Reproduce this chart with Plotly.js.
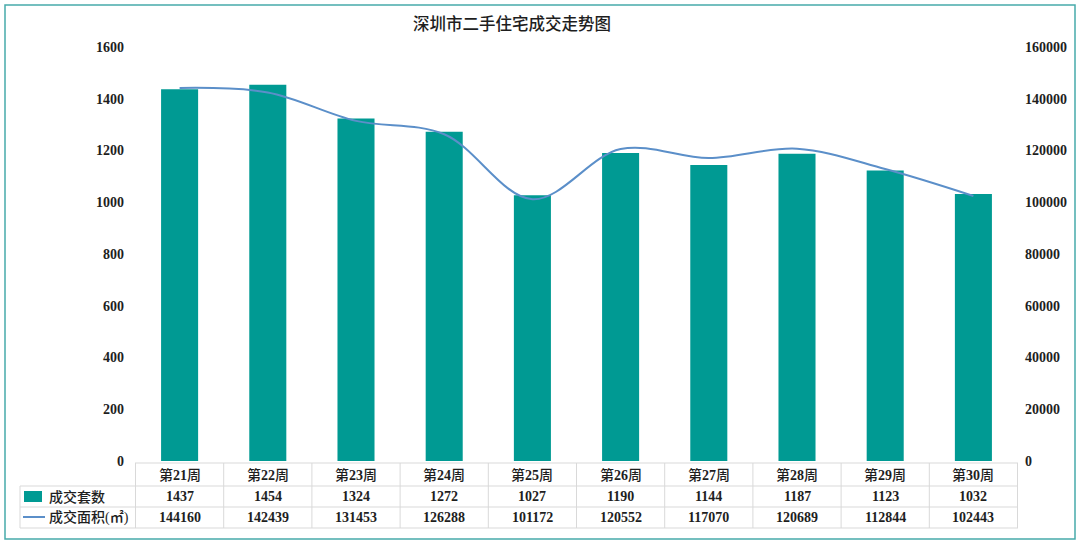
<!DOCTYPE html>
<html>
<head>
<meta charset="utf-8">
<script src="https://cdn.plot.ly/plotly-3.0.1.min.js"></script>
<style>
  html, body { margin: 0; padding: 0; background: #fff; }
  #chart { width: 1080px; height: 545px; }
</style>
</head>
<body>
<div id="chart"></div>
<script>
(function () {
    'use strict';

    // Data
    const weeks = ['第21周', '第22周', '第23周', '第24周', '第25周', '第26周', '第27周', '第28周', '第29周', '第30周'];
    const units = [1437, 1454, 1324, 1272, 1027, 1190, 1144, 1187, 1123, 1032];
    const area = [144160, 142439, 131453, 126288, 101172, 120552, 117070, 120689, 112844, 102443];
    const leftTicks = [0, 200, 400, 600, 800, 1000, 1200, 1400, 1600];
    const rightTicks = [0, 20000, 40000, 60000, 80000, 100000, 120000, 140000, 160000];
    const seriesNames = ['成交套数', '成交面积(㎡)'];

    const COLORS = {
        bar: '#009a93',
        line: '#5b8fc9',
        text: '#1e1e1e',
        grid: '#d9d9d9',
        frame: '#47aaaa'
    };
    const FONT = '"Liberation Serif", "DejaVu Serif", "Noto Sans CJK SC", serif';

    // Plot area in pixels (used to place the table below it)
    const W = 1080, H = 545;
    const M = { l: 135, r: 62, t: 47, b: 84 };
    const plotW = W - M.l - M.r;
    const plotH = H - M.t - M.b;
    const px = x => (x - M.l) / plotW;
    const py = y => (H - M.b - y) / plotH;

    // bold digits, medium CJK
    const boldDigits = s => String(s).replace(/([0-9]+)/g, '<b>$1</b>');

    // table row lines (pixels)
    const rowLines = [463, 486, 507, 528];
    const rowMid = [475, 496.5, 517.5];
    const tableLeft = 20;

    const shapes = [];
    const annotations = [];
    const n = weeks.length;

    // horizontal lines
    rowLines.forEach((y, i) => {
        shapes.push({
            type: 'line', xref: 'paper', yref: 'paper',
            x0: i === 0 ? 0 : px(tableLeft), x1: 1, y0: py(y), y1: py(y),
            line: { color: COLORS.grid, width: 1 }
        });
    });
    // vertical lines at category edges
    for (let i = 0; i <= n; i++) {
        shapes.push({
            type: 'line', xref: 'x', yref: 'paper',
            x0: i - 0.5, x1: i - 0.5, y0: py(rowLines[0]), y1: py(rowLines[3]),
            line: { color: COLORS.grid, width: 1 }
        });
    }
    shapes.push({
        type: 'line', xref: 'paper', yref: 'paper',
        x0: px(tableLeft), x1: px(tableLeft), y0: py(rowLines[1]), y1: py(rowLines[3]),
        line: { color: COLORS.grid, width: 1 }
    });

    // legend keys in the table
    shapes.push({
        type: 'rect', xref: 'paper', yref: 'paper',
        x0: px(24), x1: px(42), y0: py(491), y1: py(502),
        fillcolor: COLORS.bar, line: { width: 0 }
    });
    shapes.push({
        type: 'line', xref: 'paper', yref: 'paper',
        x0: px(23), x1: px(45), y0: py(517), y1: py(517),
        line: { color: COLORS.line, width: 2 }
    });

    // outer frame
    shapes.push({
        type: 'rect', xref: 'paper', yref: 'paper',
        x0: px(5), x1: px(1075), y0: py(5), y1: py(539),
        line: { color: COLORS.frame, width: 1.5 }
    });

    const cellFont = { family: FONT, size: 14, color: COLORS.text, weight: 500 };
    seriesNames.forEach((name, r) => {
        annotations.push({
            xref: 'paper', yref: 'paper', x: px(47), y: py(rowMid[r + 1]),
            xanchor: 'left', yanchor: 'middle', showarrow: false,
            text: name, font: cellFont
        });
    });
    weeks.forEach((w, i) => {
        [w, units[i], area[i]].forEach((v, r) => {
            annotations.push({
                xref: 'x', yref: 'paper', x: i, y: py(rowMid[r]),
                xanchor: 'center', yanchor: 'middle', showarrow: false,
                text: boldDigits(v), font: cellFont
            });
        });
    });

    const traces = [
        {
            type: 'bar', x: weeks, y: units, name: seriesNames[0],
            marker: { color: COLORS.bar, line: { width: 0 } },
            hoverinfo: 'x+y'
        },
        {
            type: 'scatter', mode: 'lines', x: weeks, y: area, name: seriesNames[1],
            yaxis: 'y2',
            line: { color: COLORS.line, width: 2, shape: 'spline', smoothing: 1 },
            hoverinfo: 'x+y'
        }
    ];

    const tickFont = { family: FONT, size: 14, color: COLORS.text, weight: 'bold' };

    const layout = {
        width: W, height: H,
        margin: M,
        paper_bgcolor: '#ffffff',
        plot_bgcolor: '#ffffff',
        font: { family: FONT, size: 14, color: COLORS.text },
        title: {
            text: '深圳市二手住宅成交走势图',
            x: 512 / W, xref: 'container', xanchor: 'center',
            y: 1 - 24 / H, yref: 'container', yanchor: 'middle',
            font: { family: FONT, size: 16.5, color: COLORS.text, weight: 500 }
        },
        showlegend: false,
        bargap: 0.58,
        xaxis: {
            type: 'category',
            showticklabels: false, showgrid: false, zeroline: false,
            showline: false, ticks: '', fixedrange: true
        },
        yaxis: {
            range: [0, 1600], tickvals: leftTicks,
            ticktext: leftTicks.map(String),
            showgrid: false, zeroline: false, showline: false, ticks: '',
            ticklabelstandoff: 10,
            tickfont: tickFont
        },
        yaxis2: {
            overlaying: 'y', side: 'right',
            range: [0, 160000], tickvals: rightTicks,
            ticktext: rightTicks.map(String),
            showgrid: false, zeroline: false, showline: false, ticks: '',
            ticklabelstandoff: 6,
            tickfont: tickFont
        },
        shapes: shapes,
        annotations: annotations
    };

    Plotly.newPlot('chart', traces, layout, { displayModeBar: false, staticPlot: true });
})();
</script>
</body>
</html>
